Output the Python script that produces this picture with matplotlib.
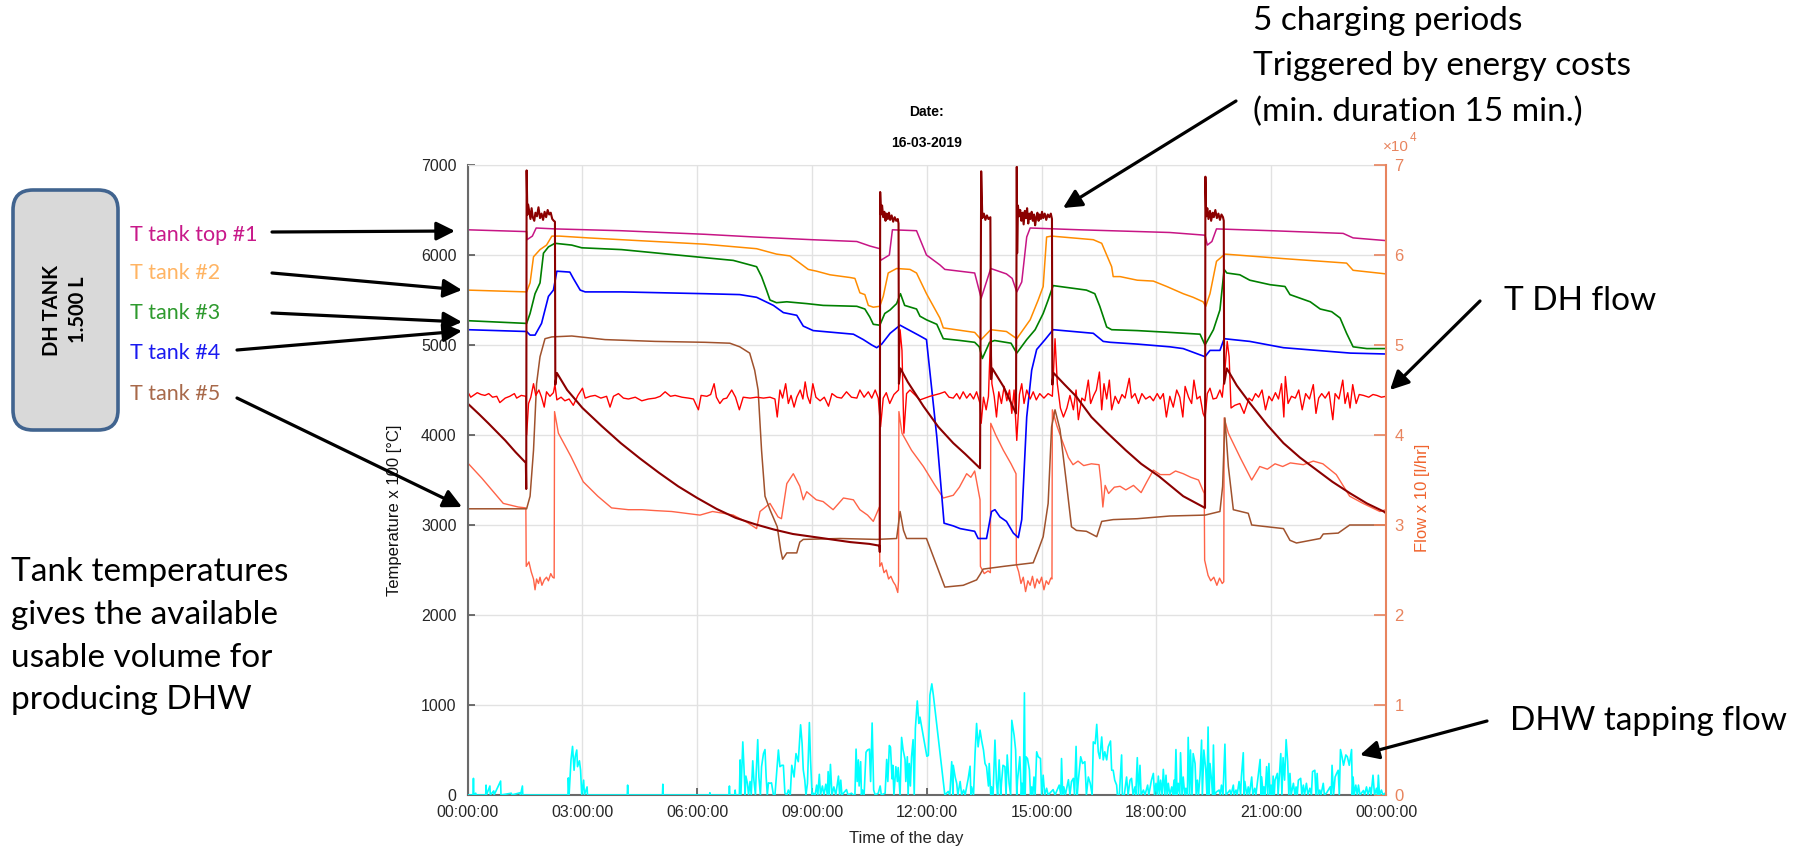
import numpy as np
import matplotlib
matplotlib.use("Agg")
import matplotlib.pyplot as plt
from matplotlib.patches import FancyBboxPatch, FancyArrowPatch
from matplotlib.ticker import MultipleLocator, FuncFormatter

plt.rcParams['font.family'] = ['Liberation Sans', 'DejaVu Sans']

# ---- data (hours, value) ----
# temperatures are in degC x 100 (left axis)
t_top1 = [(0.00, 6280), (1.54, 6260), (1.55, 6170), (1.69, 6210), (1.79, 6300), (2.28, 6290), (4.00, 6270),
          (6.20, 6230), (7.50, 6200), (9.00, 6170), (10.17, 6150), (10.51, 6100), (10.77, 6070), (10.79, 5940),
          (11.02, 6000), (11.10, 6280), (11.73, 6270), (11.99, 6000), (12.34, 5890), (12.47, 5840), (13.25, 5800),
          (13.42, 5520), (13.67, 5850), (14.08, 5790), (14.23, 5740), (14.35, 5590), (14.48, 5700), (14.61, 6200),
          (14.70, 6300), (16.00, 6280), (18.35, 6250), (19.27, 6220), (19.33, 6110), (19.45, 6150), (19.57, 6290),
          (21.00, 6270), (22.88, 6240), (23.14, 6190), (24.00, 6160)]

t_tank2 = [(0.00, 5610), (1.54, 5590), (1.63, 5690), (1.72, 5980), (1.89, 6060), (2.06, 6110), (2.20, 6210),
           (2.40, 6210), (3.15, 6190), (4.02, 6170), (6.20, 6120), (7.55, 6070), (8.07, 6010), (8.42, 5990),
           (8.68, 5910), (8.90, 5840), (9.12, 5820), (9.47, 5780), (9.99, 5750), (10.12, 5740), (10.25, 5580),
           (10.38, 5560), (10.47, 5440), (10.60, 5420), (10.77, 5430), (10.86, 5540), (10.99, 5800), (11.21, 5850),
           (11.56, 5840), (11.73, 5800), (11.99, 5570), (12.34, 5300), (12.43, 5190), (13.25, 5140), (13.42, 5060),
           (13.67, 5170), (14.08, 5150), (14.35, 5070), (14.70, 5280), (14.91, 5500), (15.04, 5650), (15.13, 6200),
           (15.26, 6210), (16.35, 6170), (16.57, 6130), (16.70, 6000), (16.83, 5870), (16.87, 5760), (17.05, 5760),
           (17.50, 5720), (17.92, 5710), (18.27, 5650), (18.70, 5570), (18.96, 5530), (19.22, 5480), (19.29, 5430),
           (19.40, 5570), (19.57, 5930), (19.79, 6010), (21.32, 5960), (22.97, 5910), (23.14, 5830), (24.00, 5790)]

t_tank3 = [(0.00, 5270), (1.54, 5240), (1.63, 5350), (1.76, 5570), (1.89, 5690), (1.98, 6020), (2.11, 6090),
           (2.28, 6130), (2.72, 6110), (2.98, 6080), (4.02, 6060), (6.20, 5970), (6.94, 5940), (7.29, 5900),
           (7.55, 5870), (7.68, 5760), (7.81, 5610), (7.90, 5500), (8.07, 5470), (8.34, 5480), (8.86, 5460),
           (9.29, 5440), (10.17, 5430), (10.38, 5400), (10.51, 5310), (10.60, 5230), (10.77, 5220), (10.90, 5350),
           (11.04, 5390), (11.21, 5460), (11.31, 5570), (11.42, 5440), (11.73, 5400), (11.82, 5320), (11.99, 5280),
           (12.26, 5230), (12.43, 5070), (12.87, 5050), (13.25, 5030), (13.37, 4980), (13.45, 4850), (13.64, 5030),
           (13.77, 5050), (14.20, 5020), (14.35, 4910), (14.61, 5060), (14.83, 5170), (15.04, 5350), (15.17, 5500),
           (15.30, 5660), (16.17, 5610), (16.39, 5570), (16.52, 5430), (16.70, 5200), (16.83, 5170), (17.50, 5160),
           (18.35, 5140), (19.14, 5120), (19.27, 5000), (19.49, 5170), (19.66, 5390), (19.77, 5840), (19.84, 5800),
           (20.18, 5780), (20.44, 5720), (20.97, 5670), (21.36, 5650), (21.49, 5560), (22.02, 5480), (22.28, 5400),
           (22.58, 5370), (22.80, 5300), (22.97, 5130), (23.14, 4980), (23.50, 4960), (24.00, 4960)]

t_tank4 = [(0.00, 5170), (1.54, 5150), (1.63, 5110), (1.76, 5110), (1.93, 5240), (2.11, 5540), (2.24, 5610),
           (2.33, 5820), (2.67, 5810), (2.76, 5740), (2.94, 5610), (3.07, 5590), (4.02, 5590), (6.20, 5570),
           (7.11, 5560), (7.55, 5530), (7.99, 5440), (8.25, 5360), (8.60, 5330), (8.77, 5210), (9.03, 5160),
           (10.08, 5120), (10.34, 5060), (10.56, 5000), (10.69, 4970), (10.82, 5010), (11.04, 5130), (11.30, 5220),
           (11.43, 5190), (11.78, 5110), (11.99, 5060), (12.26, 3980), (12.45, 3020), (12.69, 2990), (12.87, 2960),
           (13.25, 2930), (13.34, 2850), (13.56, 2850), (13.69, 3150), (13.78, 3170), (13.91, 3090), (14.08, 3040),
           (14.26, 2910), (14.39, 2860), (14.48, 3060), (14.61, 4200), (14.74, 4720), (14.87, 4950), (15.09, 5060),
           (15.30, 5170), (16.35, 5130), (16.61, 5040), (16.79, 5030), (17.50, 5010), (18.35, 4980), (18.70, 4960),
           (19.27, 4870), (19.40, 4940), (19.66, 4940), (19.77, 5070), (20.44, 5040), (21.32, 4970), (22.19, 4940),
           (23.07, 4910), (24.00, 4900)]

t_tank5 = [(0.00, 3180), (1.54, 3180), (1.63, 3320), (1.72, 3830), (1.80, 4570), (1.89, 4870), (2.02, 5070),
           (2.20, 5090), (2.72, 5100), (3.59, 5060), (4.90, 5040), (6.20, 5030), (6.85, 5020), (7.11, 4980),
           (7.37, 4910), (7.50, 4720), (7.59, 4500), (7.68, 3830), (7.77, 3320), (7.90, 3170), (8.09, 2980),
           (8.18, 2720), (8.23, 2620), (8.34, 2690), (8.60, 2690), (8.68, 2810), (8.77, 2840), (9.73, 2850),
           (10.69, 2840), (11.21, 2850), (11.30, 3150), (11.39, 2940), (11.47, 2850), (11.99, 2850), (12.47, 2310),
           (12.95, 2330), (13.30, 2390), (13.39, 2450), (13.47, 2510), (14.00, 2540), (14.78, 2580), (14.91, 2720),
           (15.04, 2870), (15.17, 3240), (15.26, 4090), (15.35, 4280), (15.48, 4060), (15.65, 3460), (15.78, 2980),
           (15.91, 2940), (16.17, 2930), (16.44, 2870), (16.57, 3040), (16.87, 3060), (17.50, 3070), (18.35, 3100),
           (19.27, 3110), (19.66, 3150), (19.73, 3430), (19.79, 4190), (19.88, 3650), (20.01, 3170), (20.40, 3130),
           (20.49, 3000), (21.32, 2960), (21.49, 2830), (21.66, 2800), (22.28, 2850), (22.36, 2900), (22.75, 2910),
           (23.05, 3000), (24.00, 3000)]

t_dh_flow = [(0.00, 4480), (0.08, 4420), (0.15, 4440), (0.25, 4470), (0.35, 4450), (0.45, 4440), (0.55, 4460),
             (0.65, 4420), (0.76, 4430), (0.84, 4360), (0.98, 4410), (1.10, 4430), (1.22, 4460), (1.28, 4410),
             (1.40, 4440), (1.52, 4430), (1.54, 4000), (1.59, 4350), (1.65, 4420), (1.72, 4570), (1.78, 4440),
             (1.86, 4500), (1.93, 4420), (2.00, 4310), (2.06, 4480), (2.15, 4430), (2.24, 4470), (2.28, 4560),
             (2.33, 4390), (2.44, 4420), (2.54, 4380), (2.65, 4400), (2.76, 4330), (2.88, 4440), (3.00, 4520),
             (3.07, 4410), (3.20, 4430), (3.33, 4440), (3.48, 4410), (3.63, 4430), (3.72, 4310), (3.81, 4430),
             (3.94, 4460), (4.07, 4410), (4.20, 4400), (4.38, 4420), (4.55, 4380), (4.72, 4400), (4.90, 4410),
             (5.03, 4430), (5.16, 4480), (5.30, 4430), (5.42, 4440), (5.60, 4420), (5.77, 4410), (5.90, 4400),
             (6.03, 4280), (6.10, 4440), (6.25, 4430), (6.35, 4450), (6.44, 4570), (6.50, 4420), (6.59, 4350),
             (6.68, 4400), (6.77, 4410), (6.90, 4500), (7.00, 4420), (7.10, 4280), (7.20, 4420), (7.38, 4410),
             (7.55, 4420), (7.73, 4410), (7.90, 4420), (8.03, 4400), (8.09, 4200), (8.16, 4500), (8.23, 4410),
             (8.31, 4570), (8.38, 4350), (8.45, 4440), (8.53, 4310), (8.60, 4420), (8.69, 4500), (8.76, 4400),
             (8.82, 4590), (8.88, 4430), (8.95, 4350), (9.02, 4570), (9.10, 4420), (9.21, 4380), (9.32, 4420),
             (9.43, 4320), (9.52, 4460), (9.65, 4420), (9.77, 4410), (9.90, 4480), (10.03, 4420), (10.17, 4410),
             (10.25, 4500), (10.36, 4420), (10.47, 4480), (10.56, 4410), (10.65, 4500), (10.73, 4410), (10.79, 4090),
             (10.86, 4410), (10.94, 4470), (11.03, 4350), (11.14, 4450), (11.26, 4500), (11.30, 5170), (11.35, 4940),
             (11.40, 4020), (11.47, 4460), (11.56, 4500), (11.82, 4390), (12.08, 4430), (12.34, 4460), (12.47, 4480),
             (12.58, 4420), (12.69, 4410), (12.78, 4460), (12.86, 4400), (12.95, 4480), (13.04, 4410), (13.13, 4460),
             (13.22, 4400), (13.30, 4480), (13.39, 4350), (13.42, 4130), (13.48, 4420), (13.55, 4280), (13.61, 4430),
             (13.67, 5170), (13.70, 4570), (13.76, 4430), (13.82, 4200), (13.88, 4480), (13.95, 4350), (14.02, 4540),
             (14.09, 4380), (14.16, 4500), (14.22, 4240), (14.28, 4500), (14.35, 3940), (14.42, 4450), (14.48, 4570),
             (14.54, 4350), (14.61, 4500), (14.70, 4400), (14.78, 4480), (14.86, 4390), (14.95, 4460), (15.06, 4410),
             (15.17, 4460), (15.28, 4430), (15.35, 5070), (15.41, 4570), (15.49, 4300), (15.57, 4200), (15.66, 4300),
             (15.74, 4440), (15.83, 4280), (15.90, 4500), (15.96, 4170), (16.05, 4410), (16.13, 4380), (16.22, 4610),
             (16.28, 4350), (16.36, 4440), (16.43, 4500), (16.51, 4700), (16.57, 4280), (16.63, 4570), (16.70, 4400),
             (16.77, 4610), (16.83, 4280), (16.92, 4430), (17.01, 4350), (17.10, 4450), (17.18, 4410), (17.29, 4630),
             (17.35, 4410), (17.44, 4460), (17.53, 4350), (17.62, 4460), (17.72, 4400), (17.83, 4430), (17.92, 4380),
             (18.02, 4460), (18.10, 4400), (18.18, 4460), (18.26, 4200), (18.35, 4430), (18.44, 4310), (18.53, 4500),
             (18.61, 4420), (18.69, 4200), (18.75, 4540), (18.84, 4420), (18.92, 4350), (18.98, 4610), (19.06, 4400),
             (19.14, 4430), (19.22, 4240), (19.27, 4190), (19.33, 4460), (19.40, 4520), (19.48, 4400), (19.57, 4410),
             (19.66, 4500), (19.72, 4420), (19.79, 4720), (19.85, 5040), (19.90, 4870), (19.95, 4300), (20.05, 4330),
             (20.18, 4350), (20.29, 4240), (20.42, 4410), (20.50, 4380), (20.59, 4460), (20.67, 4420), (20.76, 4500),
             (20.85, 4280), (20.94, 4430), (21.02, 4380), (21.11, 4470), (21.19, 4400), (21.27, 4570), (21.33, 4200),
             (21.37, 4650), (21.44, 4350), (21.53, 4430), (21.63, 4410), (21.72, 4500), (21.81, 4280), (21.90, 4460),
             (22.00, 4400), (22.10, 4560), (22.17, 4240), (22.24, 4410), (22.32, 4460), (22.41, 4410), (22.51, 4480),
             (22.61, 4170), (22.67, 4460), (22.77, 4400), (22.87, 4610), (22.93, 4350), (23.00, 4470), (23.06, 4300),
             (23.13, 4560), (23.22, 4350), (23.30, 4450), (23.41, 4440), (23.55, 4420), (23.66, 4450), (23.76, 4440),
             (23.88, 4420), (24.00, 4430)]

t_dh_supply = [(0.00, 4350), (0.30, 4230), (0.54, 4130), (0.98, 3940), (1.25, 3810), (1.52, 3690), (1.53, 3400),
               (1.54, 6940), (1.56, 6450), (1.58, 6560), (1.61, 6480), (1.64, 6400), (1.67, 6520), (1.70, 6420),
               (1.74, 6380), (1.77, 6470), (1.81, 6430), (1.85, 6530), (1.89, 6410), (1.93, 6460), (1.97, 6390),
               (2.01, 6480), (2.05, 6420), (2.09, 6500), (2.13, 6450), (2.17, 6470), (2.21, 6400), (2.25, 6380),
               (2.28, 6370), (2.29, 4560), (2.33, 4690), (2.60, 4500), (3.00, 4300), (3.50, 4100), (4.00, 3910),
               (4.50, 3740), (5.00, 3580), (5.50, 3430), (6.00, 3300), (6.50, 3180), (7.00, 3080), (7.50, 3010),
               (8.00, 2950), (8.50, 2900), (9.00, 2870), (9.50, 2840), (10.00, 2810), (10.50, 2790), (10.76, 2770),
               (10.77, 2700), (10.78, 6700), (10.80, 6450), (10.83, 6550), (10.86, 6420), (10.89, 6480), (10.92, 6380),
               (10.95, 6460), (10.98, 6400), (11.01, 6470), (11.04, 6390), (11.08, 6440), (11.12, 6370), (11.16, 6420),
               (11.20, 6380), (11.24, 6400), (11.26, 6350), (11.27, 4570), (11.31, 4740), (11.50, 4590), (11.91, 4320),
               (12.30, 4090), (12.69, 3910), (13.00, 3790), (13.39, 3630), (13.42, 6930), (13.45, 6410), (13.49, 6460),
               (13.53, 6390), (13.57, 6440), (13.61, 6400), (13.66, 6420), (13.68, 4620), (13.71, 4740), (14.00, 4540),
               (14.33, 4240), (14.35, 6980), (14.36, 6020), (14.38, 6550), (14.41, 6430), (14.44, 6500), (14.47, 6380),
               (14.50, 6470), (14.53, 6340), (14.56, 6490), (14.59, 6410), (14.62, 6520), (14.65, 6350), (14.68, 6460),
               (14.71, 6400), (14.74, 6480), (14.77, 6380), (14.80, 6450), (14.83, 6330), (14.86, 6420), (14.89, 6470),
               (14.92, 6380), (14.95, 6450), (14.98, 6400), (15.01, 6480), (15.04, 6410), (15.08, 6460), (15.12, 6390),
               (15.16, 6450), (15.20, 6420), (15.24, 6460), (15.27, 6400), (15.28, 4560), (15.31, 4690), (15.60, 4560),
               (15.90, 4430), (16.30, 4200), (16.70, 4030), (17.20, 3830), (17.60, 3680), (18.07, 3540), (18.70, 3320),
               (19.27, 3190), (19.28, 6870), (19.30, 6430), (19.33, 6520), (19.36, 6400), (19.40, 6490), (19.43, 6380),
               (19.47, 6470), (19.50, 6420), (19.54, 6500), (19.58, 6410), (19.62, 6460), (19.66, 6390), (19.70, 6450),
               (19.74, 6420), (19.76, 6380), (19.77, 4570), (19.84, 4740), (20.10, 4550), (20.45, 4350), (20.90, 4110),
               (21.32, 3910), (21.75, 3750), (22.19, 3610), (22.60, 3480), (23.07, 3350), (23.50, 3240), (23.94, 3150),
               (24.00, 3130)]

t_dh_return = [(0.00, 3690), (0.37, 3520), (0.93, 3240), (1.32, 3200), (1.52, 3190), (1.53, 2540), (1.60, 2590),
               (1.66, 2480), (1.72, 2400), (1.76, 2280), (1.80, 2400), (1.85, 2350), (1.89, 2420), (1.94, 2330),
               (2.00, 2390), (2.06, 2420), (2.11, 2380), (2.17, 2460), (2.22, 2420), (2.26, 2410), (2.27, 4260),
               (2.37, 4020), (2.70, 3760), (3.02, 3480), (3.40, 3320), (3.76, 3190), (4.20, 3170), (4.55, 3170),
               (4.90, 3160), (5.33, 3150), (5.70, 3130), (6.07, 3110), (6.40, 3150), (6.68, 3130), (6.94, 3110),
               (7.30, 3030), (7.55, 2960), (7.64, 3150), (7.90, 3240), (8.11, 3090), (8.20, 3070), (8.34, 3460),
               (8.51, 3570), (8.68, 3430), (8.77, 3280), (8.86, 3370), (9.11, 3280), (9.29, 3260), (9.55, 3170),
               (9.82, 3300), (10.08, 3280), (10.25, 3170), (10.45, 3110), (10.60, 3040), (10.76, 3200), (10.77, 2540),
               (10.82, 2580), (10.88, 2470), (10.94, 2500), (11.00, 2400), (11.06, 2430), (11.12, 2370), (11.18, 2330),
               (11.24, 2250), (11.26, 2380), (11.27, 4260), (11.35, 4020), (11.60, 3830), (11.91, 3650), (12.20, 3450),
               (12.43, 3300), (12.69, 3330), (12.85, 3420), (13.04, 3570), (13.15, 3530), (13.25, 3600), (13.39, 3280),
               (13.40, 2540), (13.50, 2460), (13.60, 2490), (13.66, 2470), (13.67, 4130), (13.80, 4000), (14.00, 3830),
               (14.20, 3680), (14.33, 3570), (14.34, 2560), (14.40, 2480), (14.46, 2350), (14.52, 2420), (14.58, 2260),
               (14.64, 2380), (14.70, 2330), (14.76, 2430), (14.82, 2300), (14.88, 2400), (14.94, 2350), (15.00, 2420),
               (15.06, 2280), (15.12, 2380), (15.18, 2340), (15.24, 2410), (15.27, 2400), (15.28, 4280), (15.40, 4100),
               (15.56, 3910), (15.70, 3750), (15.82, 3670), (15.95, 3710), (16.10, 3660), (16.30, 3680), (16.50, 3670),
               (16.55, 3480), (16.60, 3200), (16.66, 3440), (16.75, 3350), (16.90, 3420), (17.05, 3430), (17.20, 3390),
               (17.40, 3440), (17.60, 3360), (17.75, 3480), (17.92, 3610), (18.10, 3560), (18.35, 3560), (18.50, 3600),
               (18.70, 3570), (18.90, 3530), (19.10, 3500), (19.25, 3350), (19.26, 2610), (19.35, 2440), (19.42, 2380),
               (19.50, 2420), (19.58, 2330), (19.65, 2410), (19.72, 2350), (19.76, 2370), (19.77, 4190), (19.88, 4020),
               (20.20, 3740), (20.49, 3500), (20.70, 3650), (20.90, 3620), (21.10, 3680), (21.30, 3650), (21.50, 3690),
               (21.84, 3670), (22.10, 3710), (22.35, 3680), (22.70, 3560), (23.05, 3320), (23.40, 3240), (23.84, 3150),
               (24.00, 3170)]

# DHW tapping flow, l/hr x 10 (right axis)
dhw_flow = [(0.00, 0), (0.14, 0), (0.15, 1850), (0.16, 0), (0.21, 200), (0.22, 0), (0.47, 0), (0.48, 1100), (0.49, 0),
            (0.58, 1000), (0.59, 0), (0.68, 450), (0.69, 0), (0.86, 1550), (0.87, 0), (1.14, 200), (1.15, 0),
            (1.37, 250), (1.38, 0), (1.43, 1000), (1.44, 0), (2.62, 0), (2.63, 1900), (2.65, 0), (2.70, 3900),
            (2.74, 5400), (2.78, 2750), (2.81, 4250), (2.85, 5000), (2.87, 3150), (2.92, 3800), (2.95, 2750),
            (2.98, 0), (3.03, 1650), (3.05, 0), (3.12, 900), (3.13, 0), (4.17, 0), (4.18, 1100), (4.19, 0),
            (5.09, 0), (5.10, 1200), (5.11, 0), (6.32, 0), (6.33, 250), (6.34, 0), (6.83, 0), (6.84, 1000),
            (6.85, 0), (6.98, 0), (6.99, 550), (7.00, 0), (7.10, 0), (7.12, 3900), (7.14, 0), (7.19, 5900),
            (7.22, 3100), (7.25, 0), (7.27, 2100), (7.31, 1300), (7.34, 0), (7.38, 1500), (7.41, 0), (7.45, 3800),
            (7.48, 1650), (7.52, 0), (7.54, 2400), (7.58, 6150), (7.61, 2000), (7.65, 0), (7.68, 3150), (7.73, 4600),
            (7.77, 5050), (7.80, 2000), (7.83, 0), (7.86, 1350), (7.90, 1300), (7.94, 1350), (7.99, 0), (8.03, 0),
            (8.12, 5000), (8.16, 3150), (8.21, 3300), (8.25, 3300), (8.29, 200), (8.34, 0), (8.38, 550), (8.43, 0),
            (8.47, 3300), (8.53, 2000), (8.58, 4600), (8.64, 3700), (8.70, 7800), (8.74, 5700), (8.77, 2800),
            (8.81, 1650), (8.84, 0), (8.88, 1300), (8.93, 8050), (8.96, 3900), (9.00, 0), (9.03, 200), (9.08, 0),
            (9.12, 1100), (9.15, 0), (9.19, 2300), (9.22, 0), (9.27, 1000), (9.31, 0), (9.36, 1200), (9.40, 0),
            (9.42, 2600), (9.45, 0), (9.48, 3400), (9.52, 0), (9.57, 900), (9.62, 0), (9.69, 2100), (9.72, 0),
            (9.75, 1650), (9.78, 0), (9.90, 600), (9.94, 0), (10.03, 200), (10.08, 0), (10.12, 0), (10.15, 5100),
            (10.18, 1500), (10.21, 3900), (10.23, 1000), (10.27, 3700), (10.29, 0), (10.32, 550), (10.36, 0),
            (10.41, 4750), (10.45, 5000), (10.50, 5100), (10.53, 1500), (10.57, 8000), (10.61, 550), (10.65, 0),
            (10.73, 200), (10.78, 1000), (10.81, 0), (10.91, 200), (10.95, 3950), (10.98, 1500), (11.02, 5500),
            (11.05, 5300), (11.09, 1800), (11.11, 3300), (11.14, 0), (11.19, 3150), (11.23, 1500), (11.25, 3050),
            (11.30, 0), (11.34, 6400), (11.38, 5000), (11.43, 3950), (11.45, 1500), (11.49, 4250), (11.51, 0),
            (11.54, 3500), (11.57, 1000), (11.60, 4250), (11.64, 6150), (11.67, 0), (11.70, 7400), (11.75, 10450),
            (11.79, 7950), (11.82, 8650), (12.00, 4300), (12.04, 4400), (12.08, 11100), (12.13, 12350), (12.17, 11100),
            (12.47, 0), (12.56, 400), (12.60, 0), (12.65, 3700), (12.68, 0), (12.69, 3300), (12.74, 2000),
            (12.78, 1300), (12.81, 0), (12.87, 1500), (12.91, 0), (12.96, 550), (13.00, 0), (13.08, 1800),
            (13.13, 3200), (13.15, 0), (13.17, 900), (13.22, 0), (13.26, 4600), (13.30, 7950), (13.34, 5350),
            (13.39, 7200), (13.43, 6100), (13.48, 5000), (13.52, 3500), (13.56, 3150), (13.61, 1000), (13.63, 3500),
            (13.67, 0), (13.69, 900), (13.73, 0), (13.78, 6100), (13.82, 1300), (13.85, 0), (13.89, 3900),
            (13.93, 0), (13.95, 1300), (13.99, 3300), (14.04, 3150), (14.07, 0), (14.10, 4450), (14.15, 1300),
            (14.19, 0), (14.22, 8300), (14.28, 6650), (14.32, 5000), (14.35, 0), (14.37, 1650), (14.43, 4250),
            (14.47, 0), (14.49, 1300), (14.52, 0), (14.55, 11350), (14.57, 0), (14.59, 4250), (14.63, 4050),
            (14.68, 2800), (14.71, 0), (14.74, 900), (14.77, 0), (14.80, 2000), (14.83, 0), (14.87, 4800),
            (14.91, 4250), (14.97, 4050), (15.00, 0), (15.04, 2200), (15.08, 0), (15.13, 750), (15.17, 0),
            (15.30, 600), (15.35, 0), (15.46, 1100), (15.50, 0), (15.52, 4050), (15.55, 0), (15.58, 900),
            (15.62, 0), (15.70, 1700), (15.74, 0), (15.78, 1500), (15.83, 1850), (15.86, 0), (15.90, 5400),
            (15.93, 0), (15.96, 1650), (16.02, 4250), (16.07, 3500), (16.13, 3700), (16.17, 0), (16.22, 2000),
            (16.27, 1300), (16.32, 0), (16.35, 5900), (16.40, 5700), (16.44, 7850), (16.48, 4800), (16.52, 4050),
            (16.57, 6450), (16.61, 3900), (16.65, 4800), (16.70, 3900), (16.74, 5350), (16.80, 6000), (16.83, 2750),
            (16.87, 2750), (16.91, 1650), (16.96, 1100), (16.98, 0), (17.03, 0), (17.09, 4450), (17.11, 0),
            (17.16, 0), (17.22, 2000), (17.26, 0), (17.31, 1650), (17.35, 1850), (17.39, 0), (17.44, 900),
            (17.46, 0), (17.50, 4150), (17.53, 0), (17.57, 3300), (17.60, 0), (17.66, 550), (17.70, 0),
            (17.77, 1100), (17.80, 0), (17.87, 1650), (17.92, 2400), (17.95, 0), (17.99, 1300), (18.02, 0),
            (18.05, 2100), (18.08, 0), (18.11, 1650), (18.15, 0), (18.18, 2850), (18.22, 0), (18.25, 2200),
            (18.28, 0), (18.31, 1300), (18.35, 0), (18.40, 900), (18.43, 0), (18.46, 1650), (18.48, 0),
            (18.51, 5050), (18.54, 0), (18.57, 1300), (18.61, 0), (18.63, 4700), (18.67, 0), (18.70, 2000),
            (18.74, 0), (18.77, 750), (18.81, 0), (18.83, 6400), (18.87, 0), (18.89, 5000), (18.93, 0),
            (18.96, 4600), (19.01, 3500), (19.04, 0), (19.07, 1650), (19.10, 0), (19.14, 2200), (19.18, 6100),
            (19.20, 0), (19.24, 5000), (19.29, 2750), (19.32, 0), (19.35, 7550), (19.38, 0), (19.40, 3500),
            (19.44, 1650), (19.47, 0), (19.49, 5550), (19.52, 0), (19.57, 350), (19.64, 550), (19.67, 0),
            (19.70, 1100), (19.74, 0), (19.79, 5650), (19.82, 0), (19.92, 550), (19.95, 0), (20.01, 1100),
            (20.03, 0), (20.08, 550), (20.11, 0), (20.16, 1500), (20.20, 0), (20.22, 2000), (20.27, 4700),
            (20.29, 0), (20.31, 1500), (20.36, 0), (20.40, 900), (20.43, 0), (20.49, 2000), (20.52, 0),
            (20.57, 750), (20.60, 0), (20.71, 3950), (20.73, 0), (20.75, 2000), (20.79, 0), (20.81, 900),
            (20.84, 0), (20.88, 3150), (20.91, 0), (20.94, 3500), (20.97, 0), (21.00, 1100), (21.03, 0),
            (21.05, 2100), (21.08, 0), (21.10, 1650), (21.16, 2400), (21.18, 0), (21.21, 2000), (21.25, 4600),
            (21.28, 0), (21.31, 4150), (21.35, 1650), (21.39, 6150), (21.43, 3700), (21.46, 0), (21.49, 2400),
            (21.52, 0), (21.58, 1300), (21.62, 0), (21.65, 900), (21.68, 0), (21.71, 1650), (21.77, 1850),
            (21.80, 0), (21.84, 1100), (21.87, 0), (21.92, 1300), (21.96, 0), (22.01, 750), (22.05, 0),
            (22.08, 2600), (22.14, 2750), (22.17, 0), (22.20, 2400), (22.23, 0), (22.27, 550), (22.30, 0),
            (22.36, 1300), (22.39, 0), (22.45, 250), (22.54, 900), (22.57, 0), (22.59, 3300), (22.63, 0),
            (22.67, 2000), (22.71, 2400), (22.75, 2750), (22.78, 0), (22.81, 5050), (22.85, 4250), (22.89, 3300),
            (22.95, 4450), (22.99, 4250), (23.04, 3300), (23.10, 5050), (23.12, 0), (23.14, 2000), (23.17, 0),
            (23.21, 1100), (23.25, 0), (23.28, 1100), (23.32, 0), (23.41, 500), (23.44, 0), (23.49, 900),
            (23.53, 0), (23.58, 850), (23.61, 0), (23.66, 2200), (23.70, 0), (23.75, 750), (23.78, 0),
            (23.80, 2200), (23.83, 0), (23.88, 550), (23.92, 0), (23.97, 200), (24.00, 0)]

hour_ticks = [0, 3, 6, 9, 12, 15, 18, 21, 24]
tick_labels = ["00:00:00", "03:00:00", "06:00:00", "09:00:00", "12:00:00",
               "15:00:00", "18:00:00", "21:00:00", "00:00:00"]

tank_labels = ["T tank top #1", "T tank #2", "T tank #3", "T tank #4", "T tank #5"]
tank_label_colors = ["#C8198A", "#FFB463", "#2E9A2E", "#1A1AF0", "#A8694A"]

W, H = 1803, 850
FLOW_C = "#E8845E"

fig = plt.figure(figsize=(W / 100, H / 100), dpi=100)
ax = fig.add_axes([467.7 / W, 55 / H, 918.3 / W, 630 / H])
ax2 = ax.twinx()


def xy(pts):
    a = np.array(pts, dtype=float)
    return a[:, 0], a[:, 1]


series = [
    (t_dh_return, "#FF6347", 1.0),
    (t_tank5, "#A0522D", 1.1),
    (t_tank4, "#0000FF", 1.2),
    (t_tank3, "#008000", 1.2),
    (t_tank2, "#FF8C00", 1.1),
    (t_top1, "#C71585", 1.1),
    (t_dh_flow, "#FF0000", 1.0),
    (t_dh_supply, "#8B0000", 1.5),
]
for pts, col, lw in series:
    x, y = xy(pts)
    ax.plot(x, y, color=col, lw=lw)

x, y = xy(dhw_flow)
ax2.plot(x, y, color="#00FFFF", lw=1.2)

ax.set_xlim(0, 24)
ax.set_ylim(0, 7000)
ax2.set_ylim(0, 70000)
ax.set_xticks(hour_ticks)
ax.set_xticklabels(tick_labels)
ax.yaxis.set_major_locator(MultipleLocator(1000))
ax.grid(True, color="#E2E2E2", lw=1.0)
ax.set_axisbelow(True)

fs_tick = 11.5
ax.tick_params(axis="both", direction="in", length=5, width=1.2, color="#555555",
               labelsize=fs_tick, labelcolor="#262626", pad=8)
ax.tick_params(axis="x", pad=7)
for s in ["left", "bottom"]:
    ax.spines[s].set_color("#6A6A6A")
    ax.spines[s].set_linewidth(1.5)
ax.spines["top"].set_color("#E2E2E2")
ax.spines["right"].set_visible(False)
ax2.spines["top"].set_visible(False)
ax2.spines["left"].set_visible(False)
ax2.spines["bottom"].set_visible(False)
ax2.spines["right"].set_color(FLOW_C)
ax2.spines["right"].set_linewidth(1.5)

ax2.yaxis.set_major_locator(MultipleLocator(10000))
ax2.yaxis.set_major_formatter(FuncFormatter(lambda v, p: "%d" % round(v / 10000)))
ax2.tick_params(axis="y", direction="in", length=9, width=1.2, color=FLOW_C,
                labelsize=fs_tick + 0.5, labelcolor=FLOW_C, pad=6)

ax.set_xlabel("Time of the day", fontsize=12, color="#262626")
ax.xaxis.set_label_coords(0.478, -0.057)
ax.set_ylabel("Temperature x 100 [\u00b0C]", fontsize=12, color="#111111")
ax.yaxis.set_label_coords(-0.0715, 0.452)
ax2.set_ylabel("Flow x 10 [l/hr]", fontsize=12, color="#F0642E")
ax2.yaxis.set_label_coords(1.0316, 0.471)

# exponent of the right axis
fig.text(1383 / W, 1 - 147 / H, "\u00d710", color=FLOW_C, fontsize=11, ha="left", va="center")
fig.text(1410 / W, 1 - 138 / H, "4", color=FLOW_C, fontsize=8.5, ha="left", va="center")

cx = (467.7 + 459) / W
fig.text(cx, 1 - 112 / H, "Date:", ha="center", va="center", fontsize=10, fontweight="bold")
fig.text(cx, 1 - 143 / H, "16-03-2019", ha="center", va="center", fontsize=10, fontweight="bold")

# ---- annotations around the plot ----
ann_font = ["Lato", "DejaVu Sans"]

box = FancyBboxPatch((0.13, (H - 430) / 100), 1.05, 2.40,
                     boxstyle="round,pad=0,rounding_size=0.2",
                     transform=fig.dpi_scale_trans, facecolor="#D9D9D9",
                     edgecolor="#41648F", lw=2.6)
fig.patches.append(box)
fig.text(65 / W, 1 - 310 / H, "DH TANK\n1.500 L", rotation=90, ha="center", va="center",
         fontsize=14.5, fontweight="bold", family=ann_font, linespacing=1.35)

label_y = [235, 273, 313, 353, 394]
for lab, col, yy in zip(tank_labels, tank_label_colors, label_y):
    fig.text(130 / W, 1 - yy / H, lab, color=col, fontsize=15.5, family=ann_font,
             ha="left", va="center")

arrows = [
    ((272, 232), (455, 231)),
    ((272, 273), (462, 290)),
    ((272, 313), (462, 322)),
    ((237, 350), (462, 331)),
    ((237, 398), (462, 507)),
    ((1236, 101), (1063, 208)),
    ((1480, 301), (1390, 390)),
    ((1487, 721), (1360, 755)),
]
for (x0, y0), (x1, y1) in arrows:
    fig.add_artist(FancyArrowPatch(
        (x0 / W, 1 - y0 / H), (x1 / W, 1 - y1 / H), transform=fig.transFigure,
        arrowstyle="-|>", mutation_scale=28, lw=2.3, color="black",
        shrinkA=0, shrinkB=0))

ann_size = 24
charge_lines = ["5 charging periods", "Triggered by energy costs", "(min. duration 15 min.)"]
for line, yy in zip(charge_lines, [21, 66, 112]):
    fig.text(1253 / W, 1 - yy / H, line, fontsize=ann_size, family=ann_font, ha="left", va="center")
tank_lines = ["Tank temperatures", "gives the available", "usable volume for", "producing DHW"]
for line, yy in zip(tank_lines, [572, 615, 658, 700]):
    fig.text(11 / W, 1 - yy / H, line, fontsize=ann_size, family=ann_font, ha="left", va="center")
fig.text(1504 / W, 1 - 301 / H, "T DH flow", fontsize=ann_size, family=ann_font, ha="left", va="center")
fig.text(1510 / W, 1 - 721 / H, "DHW tapping flow", fontsize=ann_size, family=ann_font, ha="left", va="center")

fig.savefig("out.png", dpi=100)
